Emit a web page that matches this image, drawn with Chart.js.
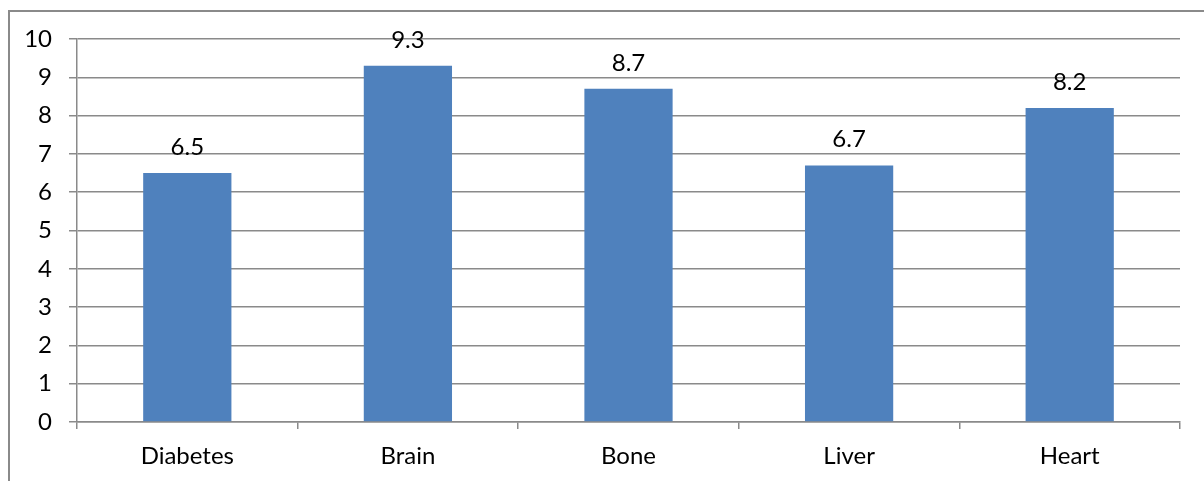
<!DOCTYPE html>
<html>
<head>
<meta charset="utf-8">
<script src="https://cdn.jsdelivr.net/npm/chart.js@4"></script>
<style>
  html, body { margin: 0; padding: 0; background: #fff; }
  #wrap { position: absolute; left: 0; top: 0; width: 1204px; height: 481px; }
</style>
</head>
<body>
<div id="wrap"><canvas id="chart" width="1204" height="481"></canvas></div>
<script>
/* ── DATA ── */
const categories = ["Diabetes", "Brain", "Bone", "Liver", "Heart"];
const scores     = [6.5, 9.3, 8.7, 6.7, 8.2];
const yTicks     = [0, 1, 2, 3, 4, 5, 6, 7, 8, 9, 10];

const GRID = "#8a8a8a";
const FONT = "Lato, 'Open Sans', sans-serif";
const FSIZE = 24;

/* ── outer frame (cut off at right & bottom like the source) ── */
const framePlugin = {
    id: "frame",
    beforeDraw(chart) {
        const c = chart.ctx;
        c.save();
        c.fillStyle = "#fff";
        c.fillRect(0, 0, chart.width, chart.height);
        c.strokeStyle = GRID;
        c.lineWidth = 2;
        c.beginPath();
        c.moveTo(9, chart.height + 5);
        c.lineTo(9, 11);
        c.lineTo(chart.width + 5, 11);
        c.stroke();
        c.restore();
    }
};

/* ── value labels above bars ── */
const valueLabels = {
    id: "valueLabels",
    afterDatasetsDraw(chart) {
        const c = chart.ctx;
        const meta = chart.getDatasetMeta(0);
        c.save();
        c.font = FSIZE + "px " + FONT;
        c.fillStyle = "#000";
        c.textAlign = "center";
        c.textBaseline = "alphabetic";
        meta.data.forEach((bar, i) => {
            c.fillText(scores[i].toFixed(1), bar.x, bar.y - 18);
        });
        c.restore();
    }
};

new Chart(document.getElementById("chart"), {
    type: "bar",
    data: {
        labels: categories,
        datasets: [{
            data: scores,
            backgroundColor: "#4f81bd",
            borderWidth: 0,
            categoryPercentage: 0.4,
            barPercentage: 1
        }]
    },
    options: {
        responsive: false,
        animation: false,
        layout: { padding: { left: 0, right: 24, top: 39, bottom: 0 } },
        plugins: { legend: { display: false }, tooltip: { enabled: false } },
        scales: {
            x: {
                grid: { offset: true, drawOnChartArea: false, drawTicks: true, tickLength: 7, color: GRID, lineWidth: 1.5 },
                border: { color: GRID, width: 1.5 },
                ticks: { color: "#000", font: { family: FONT, size: FSIZE }, padding: 13, maxRotation: 0 },
                afterFit(scale) { scale.height = 59; }
            },
            y: {
                min: 0, max: 10,
                afterBuildTicks(scale) { scale.ticks = yTicks.map(v => ({ value: v })); },
                grid: { color: GRID, lineWidth: 1.5, tickLength: 8 },
                border: { color: GRID, width: 1.5 },
                ticks: { color: "#000", font: { family: FONT, size: FSIZE }, padding: 17 },
                afterFit(scale) { scale.width = 77; }
            }
        }
    },
    plugins: [framePlugin, valueLabels]
});
</script>
</body>
</html>
